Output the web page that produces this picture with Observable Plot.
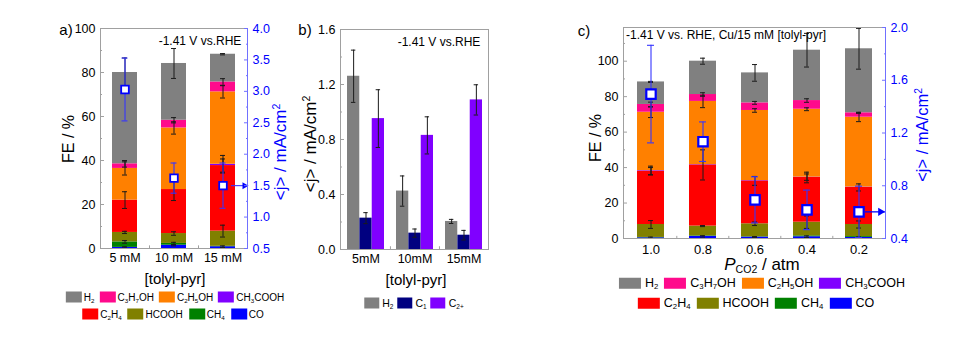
<!DOCTYPE html>
<html><head><meta charset="utf-8">
<script src="https://cdn.jsdelivr.net/npm/d3@7"></script>
<script src="https://cdn.jsdelivr.net/npm/@observablehq/plot@0.6"></script>
<style>
body{margin:0;background:#fff;font-family:"Liberation Sans",Arial,Helvetica,sans-serif;color:#000;}
#root{position:relative;width:978px;height:337px;overflow:hidden;background:#fff;}
.abs{position:absolute;white-space:nowrap;line-height:1;}
.rot{transform:translate(-50%,-50%) rotate(-90deg);}
.ctr{transform:translate(-50%,-50%);}
.lrow{position:absolute;display:flex;align-items:center;white-space:nowrap;transform:translate(-50%,-50%);line-height:1;}
.lrow .sw{display:inline-block;flex:none;}
sub{font-size:0.62em;vertical-align:-0.35em;line-height:0;}
sup{font-size:0.62em;vertical-align:0.55em;line-height:0;}
</style></head>
<body><div id="root"></div>
<script>
// ---------------- data ----------------
const species = ["CO","CH4","HCOOH","C2H4","CH3COOH","C2H5OH","C3H7OH","H2"];
const speciesColors = ["#0000ff","#008000","#808000","#ff0000","#8000ff","#ff8000","#ff0a8c","#808080"];
const speciesLabels = ["CO","CH<sub>4</sub>","HCOOH","C<sub>2</sub>H<sub>4</sub>","CH<sub>3</sub>COOH","C<sub>2</sub>H<sub>5</sub>OH","C<sub>3</sub>H<sub>7</sub>OH","H<sub>2</sub>"];
const legendRow1 = ["H2","C3H7OH","C2H5OH","CH3COOH"];
const legendRow2 = ["C2H4","HCOOH","CH4","CO"];

// panel a: FE (%) by species (rows, order of `species`) and concentration (columns)
const concA = ["5 mM","10 mM","15 mM"];
const feA = [
  [0.5, 1.5, 0.8],    // CO
  [2.5, 0.8, 0.2],    // CH4
  [4.3, 4.5, 6.9],    // HCOOH
  [14.7, 20.0, 29.8], // C2H4
  [0.0, 0.0, 0.6],    // CH3COOH
  [14.4, 28.0, 32.9], // C2H5OH
  [2.1, 3.5, 4.5],    // C3H7OH
  [41.5, 25.8, 12.6]  // H2
];
const feErrA = [
  [0.3, 0.3, 0.4],
  [0.6, 0.5, 0.0],
  [0.5, 0.8, 2.7],
  [3.8, 5.0, 3.0],
  [0.0, 0.0, 4.0],
  [3.0, 2.8, 2.8],
  [1.5, 1.2, 1.5],
  [6.6, 6.8, 0.3]
];
const jA = [3.03, 1.62, 1.50];
const jErrA = [0.50, 0.24, 0.36];
const feTicksA = [0, 20, 40, 60, 80, 100];
const feMinorA = [10, 30, 50, 70, 90];
const jTicksA = [0.5, 1.0, 1.5, 2.0, 2.5, 3.0, 3.5, 4.0];
const jMinorA = [0.75, 1.25, 1.75, 2.25, 2.75, 3.25, 3.75];
const jDomainA = [0.5, 4.0];
const feDomainA = [0, 100];

// panel b: partial current densities
const concB = ["5mM","10mM","15mM"];
const seriesB = ["H2","C1","C2+"];
const seriesBLabels = ["H<sub>2</sub>","C<sub>1</sub>","C<sub>2+</sub>"];
const seriesBColors = ["#808080","#000080","#8000ff"];
const jB = [
  [1.26, 0.425, 0.204],  // H2
  [0.228, 0.119, 0.104], // C1
  [0.952, 0.830, 1.088]  // C2+
];
const jErrB = [
  [0.19, 0.11, 0.015],
  [0.04, 0.03, 0.035],
  [0.21, 0.135, 0.11]
];
const jTicksB = [0, 0.4, 0.8, 1.2, 1.6];
const jMinorB = [0.2, 0.6, 1.0, 1.4];

// panel c: FE vs CO2 partial pressure
const pco2 = ["1.0","0.8","0.6","0.4","0.2"];
const feC = [
  [0.4, 1.2, 0.8, 1.0, 0.6],      // CO
  [0.2, 0.3, 0.2, 0.5, 0.5],      // CH4
  [7.3, 5.5, 7.3, 7.7, 6.8],      // HCOOH
  [30.1, 34.5, 24.2, 25.2, 20.9], // C2H4
  [0.3, 0.2, 0.2, 0.2, 0.2],      // CH3COOH
  [32.9, 35.6, 39.5, 38.3, 39.4], // C2H5OH
  [4.4, 3.9, 4.3, 4.9, 2.5],      // C3H7OH
  [12.7, 18.8, 16.9, 28.4, 36.1]  // H2
];
const feErrC = [
  [0.4, 0.4, 0.3, 0.5, 0.3],
  [0.0, 0.0, 0.0, 0.0, 0.0],
  [2.2, 0.3, 1.0, 3.5, 2.0],
  [2.0, 8.5, 2.5, 3.0, 2.0],
  [2.5, 0.0, 0.0, 1.8, 0.0],
  [3.0, 3.5, 1.0, 0.8, 2.5],
  [1.3, 1.0, 0.8, 1.0, 0.3],
  [0.3, 1.7, 4.7, 9.5, 11.5]
];
const jC = [1.495, 1.134, 0.693, 0.617, 0.602];
const jErrC = [0.37, 0.15, 0.175, 0.15, 0.195];
const feTicksC = [0, 20, 40, 60, 80, 100];
const feMinorC = [10, 30, 50, 70, 90, 110];
const jTicksC = [0.4, 0.8, 1.2, 1.6, 2.0];
const jMinorC = [0.6, 1.0, 1.4, 1.8];
const jDomainC = [0.4, 2.0];
const feDomainC = [0, 119];

// ---------------- helpers ----------------
const FONT = '"Liberation Sans", Arial, Helvetica, sans-serif';
const GRAY_LINE = "#a0a0a0";
const BLUE = "#0000ff";
const BLUE_LINE = "#7070ff";
const ERR = "#1a1a1a";
const root = document.getElementById("root");

function place(el, left, top) {
  const d = document.createElement("div");
  d.style.cssText = `position:absolute;left:${left}px;top:${top}px;`;
  d.appendChild(el);
  root.appendChild(d);
}
function text(html, x, y, cls, css) {
  const d = document.createElement("div");
  d.className = "abs " + cls;
  d.style.cssText += `left:${x}px;top:${y}px;` + (css || "");
  d.innerHTML = html;
  root.appendChild(d);
}
function legend(keys, labelsOf, colorOf, cx, cy, o) {
  const d = document.createElement("div");
  d.className = "lrow";
  d.style.cssText += `left:${cx}px;top:${cy}px;font-size:${o.fs}px;`;
  keys.forEach((k, i) => {
    const s = document.createElement("span");
    s.className = "sw";
    s.style.cssText = `width:${o.sw}px;height:${o.sh}px;background:${colorOf(k)};margin-right:${o.tg}px;margin-left:${i ? o.gap : 0}px;`;
    const t = document.createElement("span");
    t.innerHTML = labelsOf(k);
    d.appendChild(s); d.appendChild(t);
  });
  root.appendChild(d);
}
function stackRows(cats, fe, err) {
  const rows = [];
  cats.forEach((c, j) => {
    let base = 0;
    species.forEach((s, i) => {
      const v = fe[i][j];
      rows.push({cat: c, species: s, y1: base, y2: base + v, top: base + v, err: err[i][j]});
      base += v;
    });
  });
  return rows;
}
function errMarks(rows, {dx = 0, capL, capR, stroke = ERR, sw = 1}) {
  const r = rows.filter(d => d.err > 0);
  return [
    Plot.ruleX(r, {x: "cat", y1: d => d.top - d.err, y2: d => d.top + d.err, dx, stroke, strokeWidth: sw}),
    Plot.tickY(r, {x: "cat", y: d => d.top + d.err, insetLeft: capL, insetRight: capR, stroke, strokeWidth: sw}),
    Plot.tickY(r, {x: "cat", y: d => d.top - d.err, insetLeft: capL, insetRight: capR, stroke, strokeWidth: sw})
  ];
}
const baseStyle = {background: "transparent", fontFamily: FONT, fontSize: "12.5px", color: "#000", overflow: "visible"};

// ---------------- panel a ----------------
const toFeA = j => feDomainA[0] + (j - jDomainA[0]) / (jDomainA[1] - jDomainA[0]) * (feDomainA[1] - feDomainA[0]);
const toJA = f => jDomainA[0] + (f - feDomainA[0]) / (feDomainA[1] - feDomainA[0]) * (jDomainA[1] - jDomainA[0]);
const rowsA = stackRows(concA, feA, feErrA);
const jRowsA = concA.map((c, i) => ({cat: c, top: toFeA(jA[i]), err: toFeA(jA[i] + jErrA[i]) - toFeA(jA[i])}));
const plotA = Plot.plot({
  width: 330, height: 270,
  marginLeft: 100, marginRight: 83, marginTop: 28, marginBottom: 22,
  style: baseStyle,
  x: {domain: concA, paddingInner: 0.49, paddingOuter: 0.245},
  y: {domain: feDomainA},
  color: {domain: species, range: speciesColors},
  marks: [
    Plot.barY(rowsA, {x: "cat", y1: "y1", y2: "y2", fill: "species"}),
    ...errMarks(rowsA, {capL: 10, capR: 10}),
    ...errMarks(jRowsA, {capL: 9.5, capR: 9.5, stroke: "#3535ff", sw: 1.1}),
    Plot.ruleY([jA[2]], {y: toFeA, insetLeft: 131, stroke: "#3535ff", strokeWidth: 1.1}),
    Plot.dot([jA[2]], {y: toFeA, frameAnchor: "right", symbol: "triangle", r: 2.6, rotate: 90, fill: BLUE, stroke: null, dx: -3}),
    Plot.dot(jRowsA, {x: "cat", y: "top", symbol: "square", r: 4.3, fill: "white", stroke: BLUE, strokeWidth: 1.8}),
    Plot.ruleX(concA.slice(1), {x: d => d, y1: 0, y2: 1.2, dx: -24.5, stroke: GRAY_LINE}),
    Plot.frame({stroke: GRAY_LINE}),
    Plot.frame({anchor: "right", stroke: BLUE_LINE}),
    Plot.axisY(feTicksA, {anchor: "left", tickSize: -4, tickPadding: 9, label: null, stroke: GRAY_LINE}),
    Plot.axisY(feMinorA, {anchor: "left", tickSize: -2, tickFormat: () => "", label: null, stroke: GRAY_LINE}),
    Plot.axisY(jTicksA.map(toFeA), {anchor: "right", tickSize: -4, tickPadding: 9, label: null, color: BLUE, stroke: BLUE_LINE, tickFormat: f => toJA(f).toFixed(1)}),
    Plot.axisY(jMinorA.map(toFeA), {anchor: "right", tickSize: -2, tickFormat: () => "", label: null, stroke: BLUE_LINE}),
    Plot.axisX({tickSize: 0, tickPadding: 5, label: null})
  ]
});
place(plotA, 0, 0);
text("a)", 66, 29, "ctr", "font-size:15px;");
text("FE / %", 69, 139, "rot", "font-size:16px;");
text("&lt;j&gt; / mA/cm<sup>2</sup>", 280, 152, "rot", `font-size:17px;color:${BLUE};`);
text("-1.41 V vs.RHE", 200, 41, "ctr", "font-size:12px;");
text("[tolyl-pyr]", 175, 278, "ctr", "font-size:15px;");
const colorOf = k => speciesColors[species.indexOf(k)];
const labelOf = k => speciesLabels[species.indexOf(k)];
legend(legendRow1, labelOf, colorOf, 175, 297, {fs: 10, sw: 16, sh: 11, tg: 2, gap: 5});
legend(legendRow2, labelOf, colorOf, 173, 314, {fs: 10, sw: 16, sh: 11, tg: 2, gap: 6});

// ---------------- panel b ----------------
const bwB = 37.1;
const rowsB = [];
seriesB.forEach((s, i) => concB.forEach((c, j) => rowsB.push({cat: c, series: s, si: i, top: jB[i][j], err: jErrB[i][j]})));
const plotB = Plot.plot({
  width: 270, height: 271,
  marginLeft: 50, marginRight: 72, marginTop: 29, marginBottom: 22,
  style: baseStyle,
  x: {domain: concB, paddingInner: 0.245, paddingOuter: 0.13},
  y: {domain: [0, 1.6]},
  color: {domain: seriesB, range: seriesBColors},
  marks: [
    ...seriesB.map((s, i) => Plot.barY(rowsB.filter(d => d.si === i), {x: "cat", y: "top", fill: "series", insetLeft: i * bwB / 3, insetRight: (2 - i) * bwB / 3})),
    ...seriesB.flatMap((s, i) => errMarks(rowsB.filter(d => d.si === i), {dx: (i - 1) * bwB / 3, capL: i * bwB / 3 + (bwB / 3 - 4.5) / 2, capR: (2 - i) * bwB / 3 + (bwB / 3 - 4.5) / 2})),
    Plot.ruleX(concB.slice(1), {x: d => d, y1: 0, y2: 0.02, dx: -24.55, stroke: GRAY_LINE}),
    Plot.frame({stroke: GRAY_LINE}),
    Plot.axisY(jTicksB, {anchor: "left", tickSize: -4, tickPadding: 9, label: null, stroke: GRAY_LINE, tickFormat: d => d.toFixed(1)}),
    Plot.axisY(jMinorB, {anchor: "left", tickSize: -2, tickFormat: () => "", label: null, stroke: GRAY_LINE}),
    Plot.axisX({tickSize: 0, tickPadding: 5, label: null})
  ]
});
place(plotB, 290, 0);
text("b)", 305, 29, "ctr", "font-size:15px;");
text("&lt;j&gt; / mA/cm<sup>2</sup>", 310, 144, "rot", "font-size:17px;");
text("-1.41 V vs.RHE", 439, 42, "ctr", "font-size:12px;");
text("[tolyl-pyr]", 416, 279, "ctr", "font-size:15px;");
legend(seriesB, k => seriesBLabels[seriesB.indexOf(k)], k => seriesBColors[seriesB.indexOf(k)], 414, 303, {fs: 10.5, sw: 15, sh: 11, tg: 3, gap: 4});

// ---------------- panel c ----------------
const toFeC = j => feDomainC[0] + (j - jDomainC[0]) / (jDomainC[1] - jDomainC[0]) * (feDomainC[1] - feDomainC[0]);
const toJC = f => jDomainC[0] + (f - feDomainC[0]) / (feDomainC[1] - feDomainC[0]) * (jDomainC[1] - jDomainC[0]);
const rowsC = stackRows(pco2, feC, feErrC);
const jRowsC = pco2.map((c, i) => ({cat: c, top: toFeC(jC[i]), err: toFeC(jC[i] + jErrC[i]) - toFeC(jC[i])}));
const plotC = Plot.plot({
  width: 418, height: 260,
  marginLeft: 63, marginRight: 93, marginTop: 27, marginBottom: 22,
  style: {...baseStyle, fontSize: "13px"},
  x: {domain: pco2, paddingInner: 0.49, paddingOuter: 0.245},
  y: {domain: feDomainC},
  color: {domain: species, range: speciesColors},
  marks: [
    Plot.barY(rowsC, {x: "cat", y1: "y1", y2: "y2", fill: "species"}),
    ...errMarks(rowsC, {capL: 11, capR: 11}),
    ...errMarks(jRowsC, {capL: 10, capR: 10, stroke: "#3535ff", sw: 1.1}),
    Plot.ruleY([jC[4]], {y: toFeC, insetLeft: 242, stroke: BLUE, strokeWidth: 1.3}),
    Plot.dot([jC[4]], {y: toFeC, frameAnchor: "right", symbol: "triangle", r: 3, rotate: 90, fill: BLUE, stroke: null, dx: -5}),
    Plot.dot(jRowsC, {x: "cat", y: "top", symbol: "square", r: 5.3, fill: "white", stroke: BLUE, strokeWidth: 2.2}),
    Plot.ruleX(pco2.slice(1), {x: d => d, y1: 0, y2: 1.2, dx: -26.2, stroke: GRAY_LINE}),
    Plot.frame({stroke: GRAY_LINE}),
    Plot.frame({anchor: "right", stroke: BLUE_LINE}),
    Plot.axisY(feTicksC, {anchor: "left", tickSize: -4, tickPadding: 9, label: null, stroke: GRAY_LINE, fontSize: 12.5}),
    Plot.axisY(feMinorC, {anchor: "left", tickSize: -2, tickFormat: () => "", label: null, stroke: GRAY_LINE}),
    Plot.axisY(jTicksC.map(toFeC), {anchor: "right", tickSize: -4, tickPadding: 9, label: null, color: BLUE, stroke: BLUE_LINE, fontSize: 12.5, tickFormat: f => toJC(f).toFixed(1)}),
    Plot.axisY(jMinorC.map(toFeC), {anchor: "right", tickSize: -2, tickFormat: () => "", label: null, stroke: BLUE_LINE}),
    Plot.axisX({tickSize: 0, tickPadding: 6, label: null})
  ]
});
place(plotC, 560, 0);
text("c)", 584, 30, "ctr", "font-size:15px;");
text("FE / %", 596, 138, "rot", "font-size:16px;");
text("&lt;j&gt; / mA/cm<sup>2</sup>", 922, 135, "rot", `font-size:16.5px;color:${BLUE};`);
text("-1.41 V vs. RHE, Cu/15 mM [tolyl-pyr]", 626, 29, "", "font-size:12px;");
text("<i>P</i><sub>CO2</sub> / atm", 762, 264, "ctr", "font-size:17px;");
legend(legendRow1, labelOf, colorOf, 762, 283, {fs: 12.5, sw: 22, sh: 11, tg: 4, gap: 6});
legend(legendRow2, labelOf, colorOf, 756, 303, {fs: 12.5, sw: 22, sh: 11, tg: 4, gap: 6});
</script></body></html>
